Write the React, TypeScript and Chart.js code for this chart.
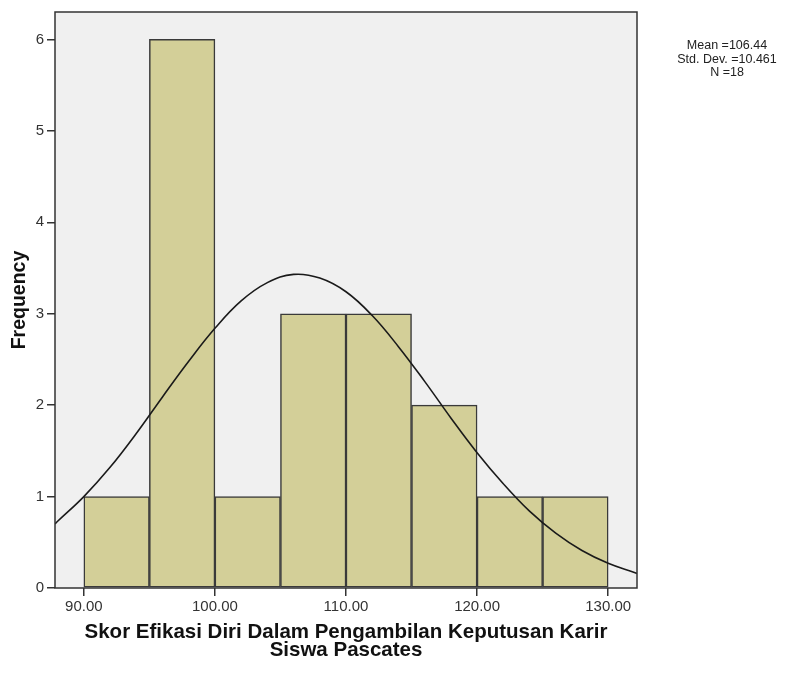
import React, { useEffect, useRef } from "react";
import { Chart, registerables } from "chart.js";

Chart.register(...registerables);

const binCenters = [92.5, 97.5, 102.5, 107.5, 112.5, 117.5, 122.5, 127.5];
const frequencies = [1, 6, 1, 3, 3, 2, 1, 1];

const curveX = [87.8, 88, 90, 92, 94, 96, 98, 100, 102, 104, 106, 108, 110, 112, 114, 116, 118, 120, 122, 124, 126, 128, 130, 132, 132.2];
const curveY = [0.70, 0.73, 1.0, 1.32, 1.69, 2.09, 2.48, 2.84, 3.14, 3.34, 3.43, 3.39, 3.24, 2.98, 2.64, 2.26, 1.86, 1.48, 1.14, 0.84, 0.6, 0.41, 0.27, 0.17, 0.16];

const xTicks = [90, 100, 110, 120, 130];
const yTicks = [0, 1, 2, 3, 4, 5, 6];

const statsLines = ["Mean =106.44", "Std. Dev. =10.461", "N =18"];

const xTitle = ["Skor Efikasi Diri Dalam Pengambilan Keputusan Karir", "Siswa Pascates"];
const yTitle = "Frequency";

const FONT = "'Liberation Sans', Arial, sans-serif";

export default function App() {
  const ref = useRef<HTMLCanvasElement | null>(null);

  useEffect(() => {
    if (!ref.current) return;

    const frame = {
      id: "frame",
      beforeDatasetsDraw(chart: any) {
        const { ctx, chartArea: a } = chart;
        ctx.save();
        ctx.fillStyle = "#f0f0f0";
        ctx.fillRect(a.left, a.top, a.right - a.left, a.bottom - a.top);
        ctx.restore();
      },
      afterDatasetsDraw(chart: any) {
        const { ctx, chartArea: a } = chart;
        ctx.save();
        ctx.strokeStyle = "#333333";
        ctx.lineWidth = 1.5;
        ctx.strokeRect(a.left, a.top, a.right - a.left, a.bottom - a.top);
        ctx.restore();
      },
      afterDraw(chart: any) {
        const { ctx } = chart;
        ctx.save();
        ctx.fillStyle = "#222222";
        ctx.font = `12.5px ${FONT}`;
        ctx.textAlign = "center";
        ctx.textBaseline = "middle";
        statsLines.forEach((t, i) => ctx.fillText(t, 727, 46 + i * 13.5));
        ctx.restore();
      },
    };

    const chart = new Chart(ref.current, {
      type: "bar",
      data: {
        datasets: [
          {
            type: "line",
            data: curveX.map((x, i) => ({ x, y: curveY[i] })),
            borderColor: "#1a1a1a",
            borderWidth: 1.6,
            pointRadius: 0,
            tension: 0.4,
            fill: false,
            order: 0,
          } as any,
          {
            type: "bar",
            data: binCenters.map((x, i) => ({ x, y: frequencies[i] })),
            backgroundColor: "#d3cf98",
            borderColor: "#3a3a3a",
            borderWidth: 1.5,
            borderSkipped: false,
            barPercentage: 1,
            categoryPercentage: 1,
            order: 1,
          } as any,
        ],
      },
      options: {
        responsive: false,
        animation: false,
        layout: { padding: { top: 10, right: 163, left: 0, bottom: 0 } },
        plugins: { legend: { display: false }, tooltip: { enabled: false } },
        scales: {
          x: {
            type: "linear",
            offset: false,
            min: 87.8,
            max: 132.2,
            afterBuildTicks: (s: any) => {
              s.ticks = xTicks.map((v) => ({ value: v }));
            },
            afterFit: (s: any) => {
              s.height = 85;
            },
            ticks: {
              font: { family: FONT, size: 15 },
              color: "#333333",
              padding: 2,
              maxRotation: 0,
              callback: (v: any) => Number(v).toFixed(2),
            },
            grid: { offset: false, drawOnChartArea: false, drawTicks: true, tickLength: 8, color: "#333333", lineWidth: 1.5 },
            border: { display: false },
            title: {
              display: true,
              text: xTitle,
              font: { family: FONT, size: 20.5, weight: "bold", lineHeight: "18px" },
              color: "#111111",
              padding: { top: 0, bottom: 14 },
            },
          },
          y: {
            type: "linear",
            min: 0,
            max: 6.3,
            afterBuildTicks: (s: any) => {
              s.ticks = yTicks.map((v) => ({ value: v }));
            },
            afterFit: (s: any) => {
              s.width = 55;
            },
            ticks: {
              font: { family: FONT, size: 15 },
              color: "#333333",
              padding: 3,
            },
            grid: { drawOnChartArea: false, drawTicks: true, tickLength: 8, color: "#333333", lineWidth: 1.5 },
            border: { display: false },
            title: {
              display: true,
              text: yTitle,
              font: { family: FONT, size: 19.5, weight: "bold", lineHeight: "21px" },
              color: "#111111",
              padding: { top: 9.5, bottom: 0 },
            },
          },
        },
      },
      plugins: [frame],
    } as any);

    return () => chart.destroy();
  }, []);

  return (
    <div style={{ position: "fixed", left: 0, top: 0, width: 800, height: 673, background: "#ffffff" }}>
      <canvas ref={ref} width={800} height={673} style={{ width: 800, height: 673, display: "block" }} />
    </div>
  );
}
